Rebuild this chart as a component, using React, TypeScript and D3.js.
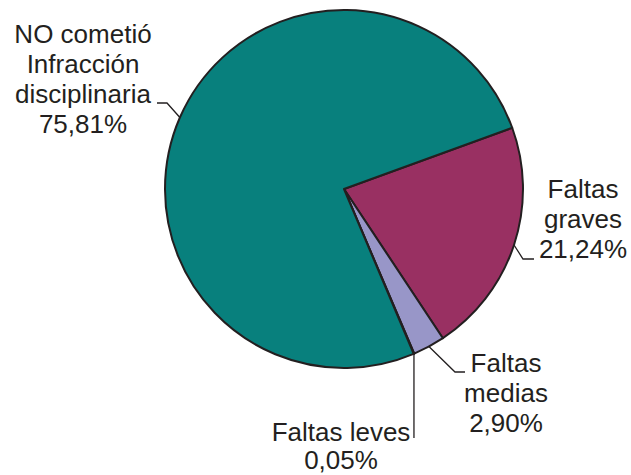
import { useEffect, useRef } from 'react';
import * as d3 from 'd3';

// Datos del gráfico
const categorias = ['Faltas graves', 'Faltas medias', 'Faltas leves', 'NO cometió Infracción disciplinaria'];
const porcentajes = [21.24, 2.9, 0.05, 75.81];
const etiquetas = [
  ['Faltas', 'graves', '21,24%'],
  ['Faltas', 'medias', '2,90%'],
  ['Faltas leves', '0,05%'],
  ['NO cometió', 'Infracción', 'disciplinaria', '75,81%'],
];
const colores = ['#993062', '#9896c8', '#9896c8', '#08807d'];

// Posición de cada etiqueta: centro x, primera línea base y, codo y final del conector
const layout = [
  { x: 583, y: 198, dy: 30, corner: [523, 259], end: [534, 259] },
  { x: 506, y: 372, dy: 30, corner: [455, 372], end: [465, 372] },
  { x: 341, y: 441, dy: 28, corner: null, end: [414, 438] },
  { x: 83, y: 43, dy: 30, corner: [167, 103], end: [157, 103] },
];

export default function App() {
  const ref = useRef<SVGSVGElement>(null);

  useEffect(() => {
    const width = 631;
    const height = 475;
    const cx = 344;
    const cy = 189;
    const radius = 179;

    const svg = d3.select(ref.current);
    svg.selectAll('*').remove();
    svg.attr('width', width).attr('height', height);

    const data = categorias.map((c, i) => ({ cat: c, value: porcentajes[i], i }));

    const startAngle = (70 * Math.PI) / 180;
    const pie = d3.pie<any>()
      .value(d => d.value)
      .sort(null)
      .startAngle(startAngle)
      .endAngle(startAngle + 2 * Math.PI);

    const arc = d3.arc<any>().innerRadius(0).outerRadius(radius);
    const arcs = pie(data);

    const g = svg.append('g').attr('transform', `translate(${cx},${cy})`);

    g.selectAll('path')
      .data(arcs)
      .enter().append('path')
      .attr('d', arc)
      .attr('fill', d => colores[d.data.i])
      .attr('stroke', '#231f20')
      .attr('stroke-width', 2)
      .attr('stroke-linejoin', 'round');

    // Conectores
    arcs.forEach(a => {
      const l = layout[a.data.i];
      const mid = (a.startAngle + a.endAngle) / 2;
      const sx = cx + radius * Math.sin(mid);
      const sy = cy - radius * Math.cos(mid);
      const pts: [number, number][] = [[sx, sy]];
      if (l.corner) pts.push(l.corner as [number, number]);
      if (!l.corner) pts.push([sx, l.end[1]]);
      else pts.push(l.end as [number, number]);
      svg.append('path')
        .attr('d', d3.line()(pts))
        .attr('fill', 'none')
        .attr('stroke', '#231f20')
        .attr('stroke-width', 1.3);
    });

    // Etiquetas
    arcs.forEach(a => {
      const l = layout[a.data.i];
      const t = svg.append('text')
        .attr('text-anchor', 'middle')
        .attr('font-family', 'Liberation Sans, Arial, sans-serif')
        .attr('font-size', 26)
        .attr('fill', '#231f20');
      etiquetas[a.data.i].forEach((line, k) => {
        t.append('tspan')
          .attr('x', l.x)
          .attr('y', l.y + k * l.dy)
          .text(line);
      });
    });
  }, []);

  return (
    <div style={{ position: 'absolute', left: 0, top: 0 }}>
      <svg ref={ref} style={{ display: 'block', background: '#fff' }}></svg>
    </div>
  );
}
